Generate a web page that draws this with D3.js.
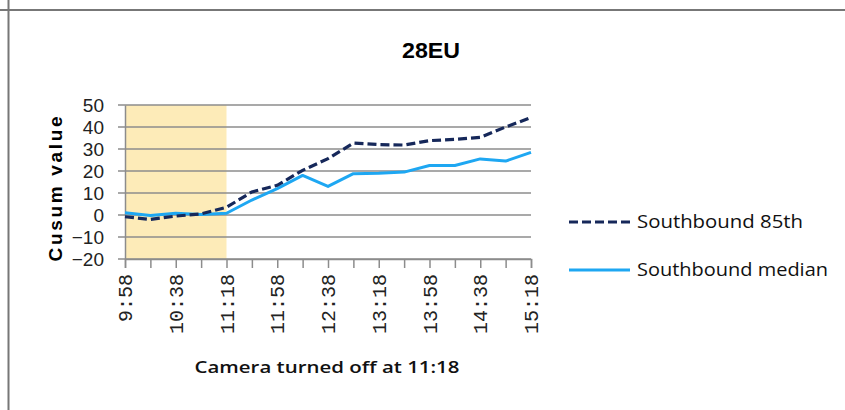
<!DOCTYPE html>
<html><head><meta charset="utf-8">
<script src="https://cdn.jsdelivr.net/npm/d3@7"></script>
<style>body{margin:0;background:#fff}svg{display:block}</style>
</head><body>
<script>
const categories = ["9:58","10:18","10:38","10:58","11:18","11:38","11:58","12:18","12:38","12:58","13:18","13:38","13:58","14:18","14:38","14:58","15:18"];
const tickLabels = ["9:58","10:38","11:18","11:58","12:38","13:18","13:58","14:38","15:18"];
const southbound85 = [-0.8,-2,-0.5,0.5,3.5,10.5,13.5,20.3,25.6,32.7,32,31.8,33.8,34.4,35.3,40,44.3];
const southboundMedian = [1,-0.2,0.8,0.2,0.8,6.8,12,18,13,18.8,19,19.5,22.5,22.5,25.5,24.5,28.5];
const yTicks = [50,40,30,20,10,0,-10,-20];
const shadeRange = ["9:58","11:18"];
const title = "28EU";
const yTitle = "Cusum  value";
const xTitle = "Camera turned off at 11:18";
const seriesNames = ["Southbound 85th","Southbound median"];

const W=845,H=410;
const svg=d3.select("body").append("svg").attr("width",W).attr("height",H);
// frame
svg.append("line").attr("x1",0).attr("x2",W).attr("y1",10).attr("y2",10).attr("stroke","#777").attr("stroke-width",2);
svg.append("line").attr("x1",8.5).attr("x2",8.5).attr("y1",0).attr("y2",H).attr("stroke","#777").attr("stroke-width",2);

const x=d3.scalePoint().domain(categories).range([125,531]);
const y=d3.scaleLinear().domain([-20,50]).range([259,105]);

// shading
svg.append("rect").attr("x",x(shadeRange[0])).attr("y",y(50)).attr("width",x(shadeRange[1])-x(shadeRange[0])).attr("height",y(-20)-y(50)).attr("fill","#FDEBB8");

// gridlines
svg.append("g").selectAll("line").data(yTicks).join("line")
  .attr("x1",118).attr("x2",531).attr("y1",d=>y(d)).attr("y2",d=>y(d))
  .attr("stroke","#8c8c8c").attr("stroke-width",1.5);

// y axis
const ya=svg.append("g").attr("transform","translate(125,0)")
  .call(d3.axisLeft(y).tickValues(yTicks).tickSize(0).tickPadding(21).tickFormat(d3.format("d")));
ya.select(".domain").attr("stroke","#8c8c8c").attr("stroke-width",1.5);
ya.selectAll("text").attr("font-family","Liberation Sans, Arial, sans-serif").attr("font-size",19).attr("fill","#222").attr("dy","0.36em");

// x axis
const xa=svg.append("g").attr("transform","translate(0,259)")
  .call(d3.axisBottom(x).tickSize(9).tickFormat(""));
xa.select(".domain").attr("stroke","#8c8c8c").attr("stroke-width",1.5);
xa.selectAll(".tick line").attr("stroke","#8c8c8c").attr("stroke-width",1.5);
svg.append("g").selectAll("text").data(tickLabels).join("text")
  .attr("transform",d=>`translate(${x(d)+7},274) rotate(-90)`)
  .attr("text-anchor","end")
  .attr("font-family","Liberation Mono, DejaVu Sans Mono, monospace").attr("font-size",20).attr("fill","#222")
  .text(d=>d);

// lines
const line=d3.line().x((d,i)=>x(categories[i])).y(d=>y(d));
svg.append("path").datum(southboundMedian).attr("d",line).attr("fill","none")
  .attr("stroke","#1EA7F2").attr("stroke-width",3).attr("stroke-linejoin","round");
svg.append("path").datum(southbound85).attr("d",line).attr("fill","none")
  .attr("stroke","#16285A").attr("stroke-width",3.2).attr("stroke-dasharray","9,4");

// titles
svg.append("text").attr("x",431).attr("y",58).attr("text-anchor","middle")
  .attr("font-family","Liberation Sans, Arial, sans-serif").attr("font-weight","bold")
  .attr("font-size",22).attr("textLength",58).attr("lengthAdjust","spacingAndGlyphs").attr("fill","#000").text(title);
svg.append("text").attr("transform","translate(62,189) rotate(-90)").attr("text-anchor","middle")
  .attr("font-family","Liberation Sans, Arial, sans-serif").attr("font-weight","bold").attr("font-size",19)
  .attr("textLength",145).attr("lengthAdjust","spacing").attr("fill","#000").text(yTitle);
svg.append("text").attr("x",327).attr("y",373).attr("text-anchor","middle")
  .attr("font-family","Open Sans, Liberation Sans, sans-serif").attr("font-size",17).attr("font-weight",600)
  .attr("textLength",265).attr("lengthAdjust","spacingAndGlyphs").attr("fill","#111").text(xTitle);

// legend
const lg=svg.append("g");
const ly=[222,270];
lg.append("line").attr("x1",569).attr("x2",630).attr("y1",ly[0]).attr("y2",ly[0])
  .attr("stroke","#16285A").attr("stroke-width",3.2).attr("stroke-dasharray","9,4");
lg.append("line").attr("x1",569).attr("x2",630).attr("y1",ly[1]).attr("y2",ly[1])
  .attr("stroke","#1EA7F2").attr("stroke-width",3);
lg.selectAll("text").data(seriesNames).join("text")
  .attr("x",637).attr("y",(d,i)=>ly[i]+6)
  .attr("font-family","Open Sans, Liberation Sans, sans-serif").attr("font-size",18).attr("fill","#111")
  .attr("textLength",(d,i)=>[166,191][i]).attr("lengthAdjust","spacingAndGlyphs")
  .text(d=>d);
</script>
</body></html>
